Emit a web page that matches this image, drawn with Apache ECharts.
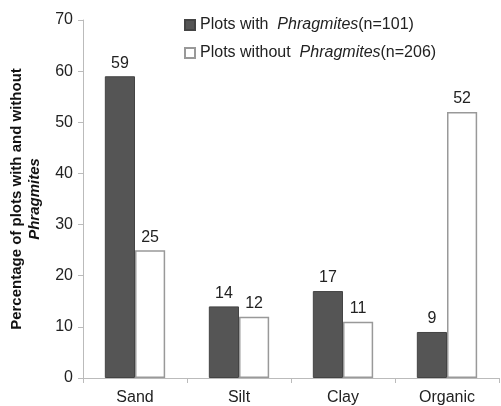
<!DOCTYPE html>
<html>
<head>
<meta charset="utf-8">
<script src="https://cdn.jsdelivr.net/npm/echarts@6/dist/echarts.min.js"></script>
<style>
  html, body { margin: 0; padding: 0; background: #fff; }
  #chart { width: 501px; height: 406px; }
</style>
</head>
<body>
<div id="chart"></div>
<script>
// soil types
var categories = ["Sand", "Silt", "Clay", "Organic"];
// percentage of plots
var withPhrag = [59, 14, 17, 9];
var withoutPhrag = [25, 12, 11, 52];
var yTicks = { min: 0, max: 70, interval: 10 };

var FONT = "Liberation Sans, Arial, sans-serif";
var chart = echarts.init(document.getElementById("chart"));

var option = {
  animation: false,
  textStyle: { fontFamily: FONT },
  grid: { left: 83, right: 2, top: 20, bottom: 28, outerBoundsMode: "none" },
  legend: {
    orient: "vertical",
    left: 184,
    top: 17,
    padding: 0,
    itemWidth: 10,
    itemHeight: 10,
    itemGap: 12,
    icon: "rect",
    textStyle: {
      fontFamily: FONT,
      fontSize: 16,
      color: "#222",
      rich: {
        it: { fontFamily: FONT, fontStyle: "italic", fontSize: 16, color: "#222" }
      }
    },
    formatter: function (name) {
      if (name === "with") return "Plots with  {it|Phragmites}(n=101)";
      return "Plots without  {it|Phragmites}(n=206)";
    },
    data: ["with", "without"]
  },
  xAxis: {
    type: "category",
    data: categories,
    axisLine: { lineStyle: { color: "#bbb" } },
    axisTick: { show: true, length: 5, lineStyle: { color: "#bbb" } },
    axisLabel: { fontFamily: FONT, fontSize: 16, color: "#222", margin: 12 }
  },
  yAxis: {
    type: "value",
    min: yTicks.min,
    max: yTicks.max,
    interval: yTicks.interval,
    splitLine: { show: false },
    axisLine: { show: true, lineStyle: { color: "#bbb" } },
    axisTick: { show: true, length: 5, lineStyle: { color: "#bbb" } },
    axisLabel: { fontFamily: FONT, fontSize: 16, color: "#222", margin: 10 },
    name: "Percentage of plots with and without\n{it|Phragmites}",
    nameLocation: "middle",
    nameRotate: 90,
    nameGap: 39,
    nameMoveOverlap: false,
    nameTextStyle: {
      fontFamily: FONT,
      fontSize: 15,
      fontWeight: "bold",
      color: "#111",
      lineHeight: 18,
      rich: {
        it: { fontFamily: FONT, fontSize: 15, fontWeight: "bold", fontStyle: "italic", color: "#111" }
      }
    }
  },
  series: [
    {
      name: "with",
      type: "bar",
      data: withPhrag,
      barGap: "0%",
      barCategoryGap: "42%",
      itemStyle: { color: "#555", borderColor: "#444", borderWidth: 1 },
      label: { show: true, position: "top", fontFamily: FONT, fontSize: 16, color: "#222", distance: 5 }
    },
    {
      name: "without",
      type: "bar",
      data: withoutPhrag,
      itemStyle: { color: "#fff", borderColor: "#999", borderWidth: 1.5 },
      label: { show: true, position: "top", fontFamily: FONT, fontSize: 16, color: "#222", distance: 5 }
    }
  ]
};

chart.setOption(option);
</script>
</body>
</html>
